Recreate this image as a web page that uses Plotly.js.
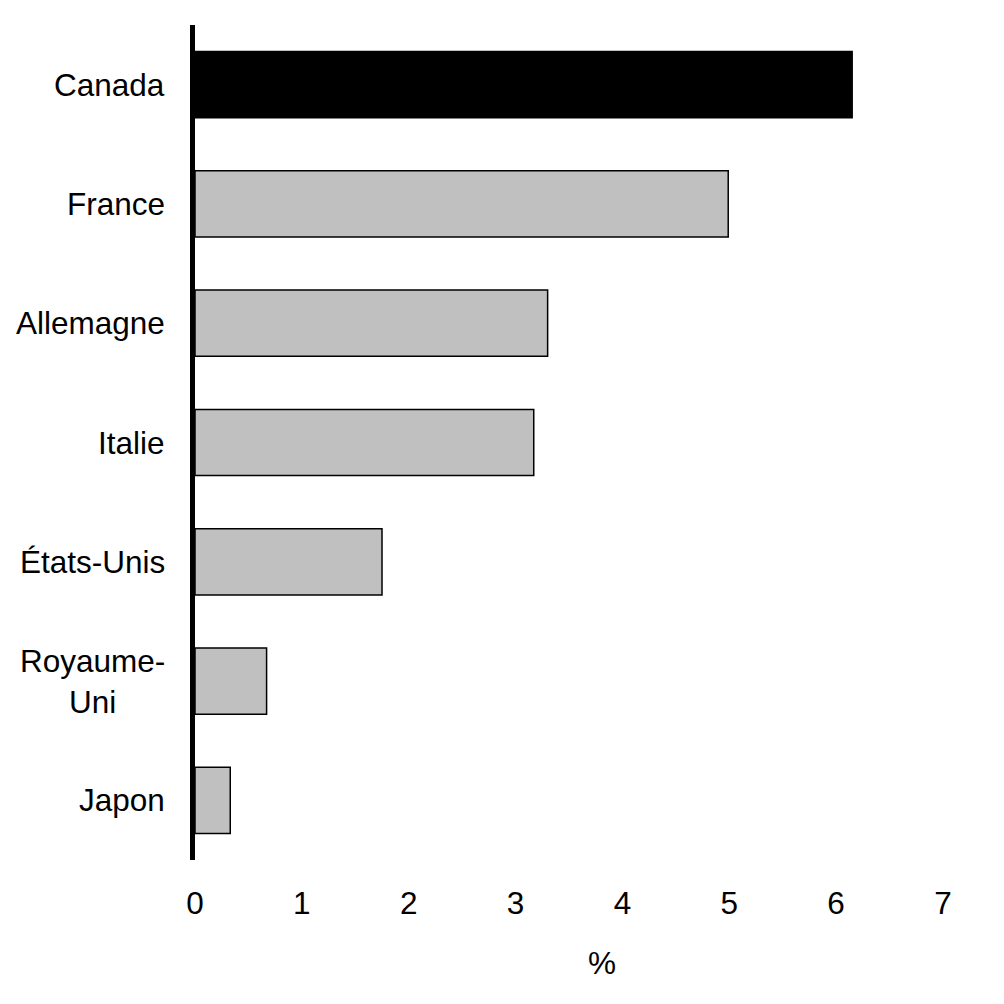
<!DOCTYPE html>
<html>
<head>
<meta charset="utf-8">
<script src="https://cdn.plot.ly/plotly-3.0.1.min.js"></script>
<style>
  html, body { margin: 0; padding: 0; background: #fff; }
  #chart { width: 1004px; height: 1004px; }
</style>
</head>
<body>
<div id="chart"></div>
<script>
// Country labels, top to bottom
const countries = ['Canada', 'France', 'Allemagne', 'Italie', 'États-Unis', 'Royaume-<br>Uni', 'Japon'];
// Values (%)
const values = [6.15, 4.99, 3.30, 3.17, 1.75, 0.67, 0.33];
const barColors = ['#000000', '#c0c0c0', '#c0c0c0', '#c0c0c0', '#c0c0c0', '#c0c0c0', '#c0c0c0'];
const xTicks = [0, 1, 2, 3, 4, 5, 6, 7];

const FONT = 'Arial, "Liberation Sans", sans-serif';
const FS = 31.5;

const trace = {
  type: 'bar',
  orientation: 'h',
  x: values,
  y: countries,
  width: 0.555,
  marker: { color: barColors, line: { color: '#000', width: 1.5 } },
  hoverinfo: 'none',
};

// category labels as annotations so two-line labels are centred
const labelNotes = countries.map(c => ({
  xref: 'paper', yref: 'y', x: 0, y: c,
  xanchor: 'right', yanchor: 'middle', xshift: -28,
  text: c, align: 'center', showarrow: false,
  font: { family: FONT, size: FS, color: '#000' },
}));

const layout = {
  width: 1004,
  height: 1004,
  paper_bgcolor: '#fff',
  plot_bgcolor: '#fff',
  margin: { t: 25, r: 61, b: 144, l: 195 },
  font: { family: FONT, size: FS, color: '#000' },
  showlegend: false,
  xaxis: {
    range: [0, 7],
    tickvals: xTicks,
    ticktext: xTicks.map(String),
    showgrid: false,
    zeroline: false,
    showline: false,
    ticks: '',
    ticklabelstandoff: 21,
    tickfont: { family: FONT, size: FS, color: '#000' },
  },
  yaxis: {
    autorange: 'reversed',
    showgrid: false,
    zeroline: false,
    showline: true,
    linecolor: '#000',
    linewidth: 5,
    ticks: '',
    showticklabels: false,
  },
  annotations: labelNotes.concat([{
    xref: 'paper', yref: 'paper', x: 0.544, y: 0,
    xanchor: 'center', yanchor: 'middle', yshift: -103,
    text: '%', showarrow: false,
    font: { family: FONT, size: FS, color: '#000' },
  }]),
};

Plotly.newPlot('chart', [trace], layout, { displayModeBar: false, staticPlot: true });
</script>
</body>
</html>
